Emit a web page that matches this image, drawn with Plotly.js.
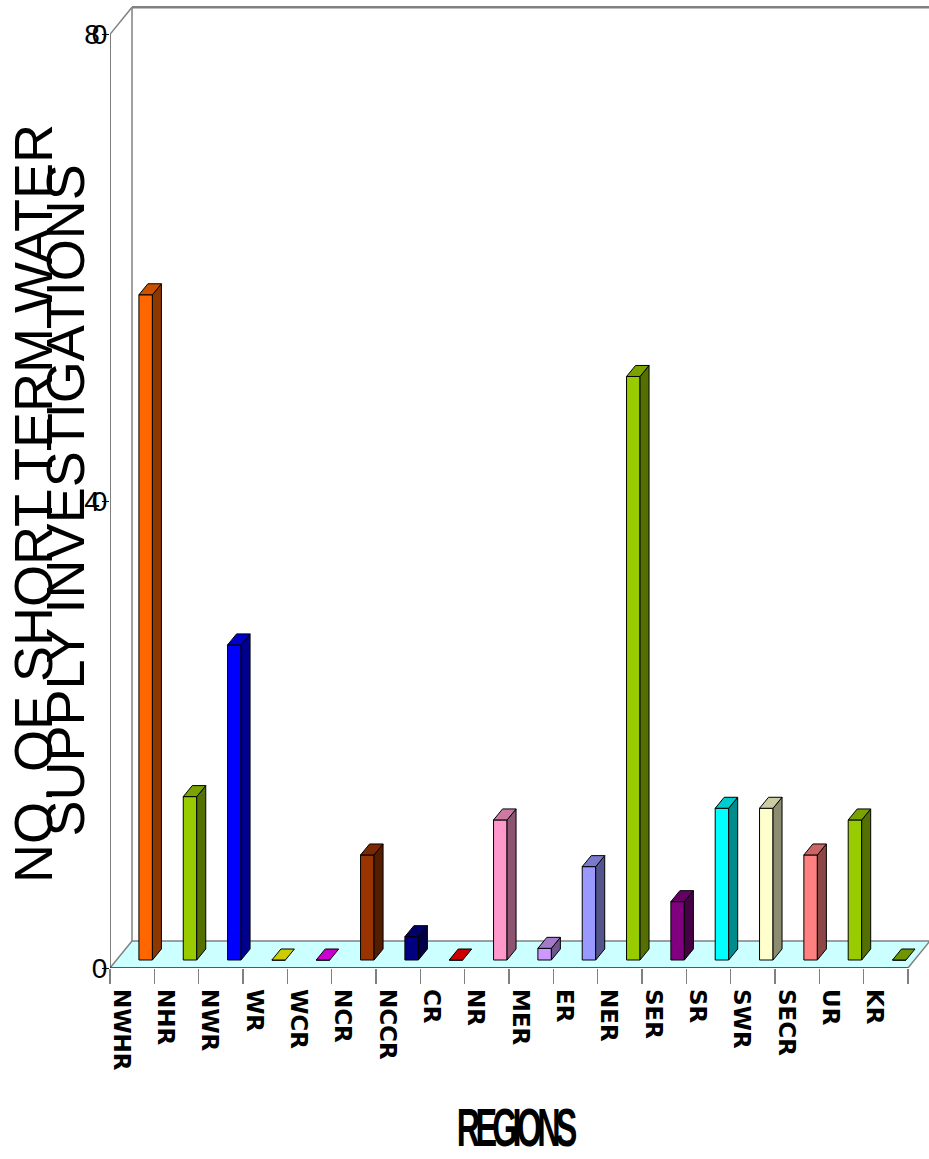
<!DOCTYPE html>
<html>
<head>
<meta charset="utf-8">
<script src="https://cdn.plot.ly/plotly-3.0.1.min.js"></script>
<style>
  html, body { margin: 0; padding: 0; background: #fff; }
  #chart { width: 929px; height: 1159px; }
  /* tightly set numerals and a condensed axis caption */
  .ytick text { letter-spacing: -8px; }
  .annotation[data-index="2"] text {
    letter-spacing: -8px;
    transform-box: fill-box;
    transform-origin: center;
    transform: scaleX(0.6);
  }
</style>
</head>
<body>
<div id="chart"></div>
<script>
// ---- data ----
const regions = ['NWHR', 'NHR', 'NWR', 'WR', 'WCR', 'NCR', 'NCCR', 'CR', 'NR',
                 'MER', 'ER', 'NER', 'SER', 'SR', 'SWR', 'SECR', 'UR', 'KR'];
const investigations = [57, 14, 27, 0, 0, 9, 2, 0, 12, 1, 8, 50, 5, 13, 13, 9, 12, 0];
const faceColors = ['#FF6600', '#99CC00', '#0000FF', '#FFFF00', '#FF00FF', '#993300',
                    '#000080', '#FF0000', '#FF99CC', '#CC99FF', '#9999FF', '#99CC00',
                    '#800080', '#00FFFF', '#FFFFCC', '#FF8080', '#99CC00', '#88BB00'];
const valueTicks = [0, 40, 80];
const valueMax = 80;
const yTitleLines = ['NO. OF SHORT TERM WATER', 'SUPPLY INVESTIGATIONS'];
const xTitle = 'REGIONS';

// ---- page geometry ----
const W = 929, H = 1159;
const M = { l: 110, r: 0, t: 4, b: 191 };
const plotW = W - M.l - M.r, plotH = H - M.t - M.b;
const slotPx = 44.33;                 // width of one category slot
const xMin = -0.5, xMax = xMin + plotW / slotPx;
const yMax = 82.6;
const pxY = plotH / yMax;             // pixels per value unit
const ux = px => px / slotPx;
const uy = px => px / pxY;

// pseudo-3D depth offsets (in pixels, converted to axis units)
const floorDX = ux(22), floorDY = uy(27);
const barDX = ux(9), barDY = uy(11);
const barBase = uy(8);
const barShift = ux(13.5), barW = ux(13.5);
const labelShift = ux(-11);

const FONT = 'Liberation Sans, Arial, sans-serif';

function shade(hex, f) {
  const n = parseInt(hex.slice(1), 16);
  const r = Math.round(((n >> 16) & 255) * f);
  const g = Math.round(((n >> 8) & 255) * f);
  const b = Math.round((n & 255) * f);
  return `rgb(${r},${g},${b})`;
}

const traces = [];

// front faces of the columns
traces.push({
  type: 'bar',
  x: regions.map((_, i) => i + barShift),
  y: investigations,
  base: barBase,
  width: barW,
  marker: { color: faceColors, line: { color: '#000', width: 1 } },
  hoverinfo: 'skip',
  showlegend: false
});

// side and top faces
regions.forEach((name, i) => {
  const v = investigations[i];
  const xl = i + barShift - barW / 2, xr = i + barShift + barW / 2;
  const y0 = barBase, y1 = barBase + v;
  if (v > 0) {
    traces.push({
      type: 'scatter', mode: 'lines', fill: 'toself',
      x: [xr, xr + barDX, xr + barDX, xr, xr],
      y: [y0, y0 + barDY, y1 + barDY, y1, y0],
      fillcolor: shade(faceColors[i], 0.55),
      line: { color: '#000', width: 1 },
      hoverinfo: 'skip', showlegend: false
    });
  }
  traces.push({
    type: 'scatter', mode: 'lines', fill: 'toself',
    x: [xl, xr, xr + barDX, xl + barDX, xl],
    y: [y1, y1, y1 + barDY, y1 + barDY, y1],
    fillcolor: shade(faceColors[i], 0.8),
    line: { color: '#000', width: 1 },
    hoverinfo: 'skip', showlegend: false
  });
});

// floor, back walls and front edges
const xEnd = regions.length - 0.5;
const shapes = [
  { type: 'path', layer: 'below', xref: 'x', yref: 'y',
    path: `M ${xMin},0 L ${xEnd},0 L ${xEnd + floorDX},${floorDY} L ${xMin + floorDX},${floorDY} Z`,
    fillcolor: '#CCFFFF', line: { color: '#808080', width: 1.5 } },
  { type: 'line', layer: 'below', xref: 'x', yref: 'y',
    x0: xMin + floorDX, y0: floorDY, x1: xMin + floorDX, y1: valueMax + floorDY,
    line: { color: '#808080', width: 1.5 } },
  { type: 'line', layer: 'below', xref: 'x', yref: 'y',
    x0: xMin + floorDX, y0: valueMax + floorDY, x1: xMax, y1: valueMax + floorDY,
    line: { color: '#808080', width: 2.5 } },
  { type: 'line', layer: 'below', xref: 'x', yref: 'y',
    x0: xMin, y0: valueMax, x1: xMin + floorDX, y1: valueMax + floorDY,
    line: { color: '#808080', width: 1.5 } },
  { type: 'line', layer: 'above', xref: 'x', yref: 'y',
    x0: xMin, y0: 0, x1: xMin, y1: valueMax,
    line: { color: '#000', width: 1 } },
  { type: 'line', layer: 'above', xref: 'x', yref: 'y',
    x0: xMin, y0: 0, x1: xEnd, y1: 0,
    line: { color: '#404040', width: 1.5 } }
];

const paperX = px => (px - M.l) / plotW;
const paperY = py => (H - M.b - py) / plotH;

const annotations = [
  { text: yTitleLines[0], x: paperX(33.5), y: paperY(503.5) },
  { text: yTitleLines[1], x: paperX(65), y: paperY(500.5) }
].map(a => Object.assign(a, {
  xref: 'paper', yref: 'paper', xanchor: 'center', yanchor: 'middle',
  showarrow: false, textangle: -90,
  font: { family: FONT, size: 54, color: '#000' }
}));
annotations.push({
  text: xTitle, xref: 'paper', yref: 'paper',
  x: paperX(513), y: paperY(1127), xanchor: 'center', yanchor: 'middle',
  showarrow: false,
  font: { family: FONT, size: 54, color: '#000', weight: 'bold' }
});

const layout = {
  width: W, height: H,
  margin: M,
  paper_bgcolor: '#fff', plot_bgcolor: 'rgba(0,0,0,0)',
  showlegend: false,
  barmode: 'overlay',
  xaxis: {
    range: [xMin, xMax], fixedrange: true,
    tickmode: 'array',
    tickvals: regions.map((_, i) => i + labelShift),
    ticktext: regions,
    tickangle: 90,
    ticks: '',
    ticklabelstandoff: 20,
    tickfont: { family: 'DejaVu Sans, sans-serif', size: 23, weight: 'bold', color: '#000' },
    showgrid: false, zeroline: false, showline: false,
    minor: { tick0: xMin, dtick: 1, ticks: 'outside', ticklen: 15,
             tickcolor: '#808080', tickwidth: 1.5, showgrid: false }
  },
  yaxis: {
    range: [0, yMax], fixedrange: true,
    tickmode: 'array', tickvals: valueTicks,
    ticks: 'outside', ticklen: 7, tickcolor: '#000', tickwidth: 1,
    ticklabelstandoff: -3,
    tickfont: { family: FONT, size: 28, color: '#000' },
    showgrid: false, zeroline: false, showline: false
  },
  shapes: shapes,
  annotations: annotations
};

Plotly.newPlot('chart', traces, layout, { displayModeBar: false, staticPlot: true });
</script>
</body>
</html>
